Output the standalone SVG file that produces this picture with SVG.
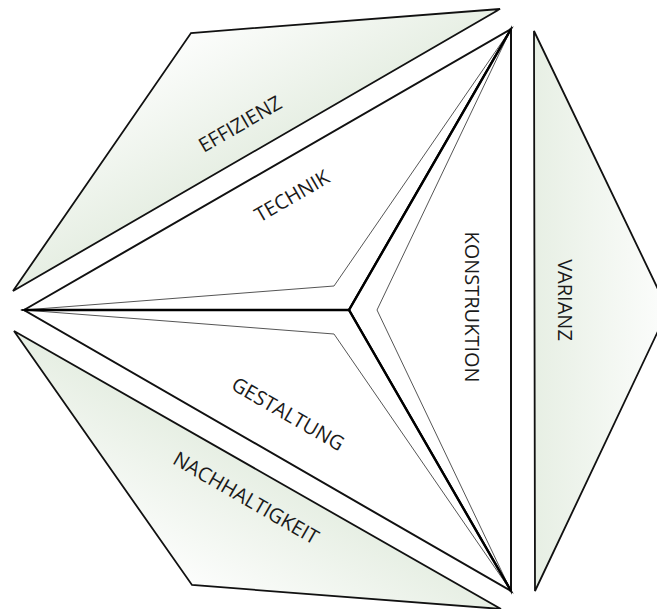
<svg xmlns="http://www.w3.org/2000/svg" width="657" height="609" viewBox="0 0 657 609">
<defs>
<style>
.outer{stroke:#111;stroke-width:1.8;stroke-linejoin:miter}
.face{fill:#fff;stroke:#111;stroke-width:2;stroke-linejoin:miter}
.spoke{stroke:#000;stroke-width:2.4;fill:none}
.bevel{stroke:#555;stroke-width:1;fill:none}
text{font-family:"Open Sans","Liberation Sans",sans-serif;font-size:20px;fill:#1a1a1a;text-anchor:middle}
</style>
<linearGradient id="gEff" gradientUnits="userSpaceOnUse" x1="256" y1="150" x2="191" y2="33">
<stop offset="0" stop-color="#e7efe4"/><stop offset="1" stop-color="#fcfdfc"/>
</linearGradient>
<linearGradient id="gVar" gradientUnits="userSpaceOnUse" x1="534" y1="311" x2="668" y2="310">
<stop offset="0" stop-color="#e7efe4"/><stop offset="1" stop-color="#fcfdfc"/>
</linearGradient>
<linearGradient id="gNach" gradientUnits="userSpaceOnUse" x1="256" y1="470" x2="192" y2="585">
<stop offset="0" stop-color="#e7efe4"/><stop offset="1" stop-color="#fcfdfc"/>
</linearGradient>
</defs>
<rect width="657" height="609" fill="#fff"/>
<g id="effizienz">
<polygon class="outer" fill="url(#gEff)" points="13,291 191,33 500,9"/>
<text transform="translate(240,124) rotate(-30)" dy="0.35em">EFFIZIENZ</text>
</g>
<g id="varianz">
<polygon class="outer" fill="url(#gVar)" points="534,31 668,310 535,591"/>
<text transform="translate(565,300) rotate(90)" dy="0.35em">VARIANZ</text>
</g>
<g id="nachhaltigkeit">
<polygon class="outer" fill="url(#gNach)" points="14,331 192,585 501,609"/>
<text transform="translate(246,498) rotate(30)" dy="0.35em">NACHHALTIGKEIT</text>
</g>
<g id="technik">
<polygon class="face" points="24,310 511,29 349,310"/>
<polyline class="bevel" points="24,310 334,286 511,29"/>
<text transform="translate(292,196) rotate(-30)" dy="0.35em">TECHNIK</text>
</g>
<g id="konstruktion">
<polygon class="face" points="511,29 511,591 349,310"/>
<polyline class="bevel" points="511,29 377,310 511,591"/>
<text transform="translate(472,307) rotate(90)" dy="0.35em">KONSTRUKTION</text>
</g>
<g id="gestaltung">
<polygon class="face" points="24,310 349,310 511,591"/>
<polyline class="bevel" points="24,310 334,334 511,591"/>
<text transform="translate(288,414) rotate(30)" dy="0.35em">GESTALTUNG</text>
</g>
<g id="connectors">
<line class="spoke" x1="349" y1="310" x2="24" y2="310"/>
<line class="spoke" x1="349" y1="310" x2="511" y2="29"/>
<line class="spoke" x1="349" y1="310" x2="511" y2="591"/>
</g>
</svg>
